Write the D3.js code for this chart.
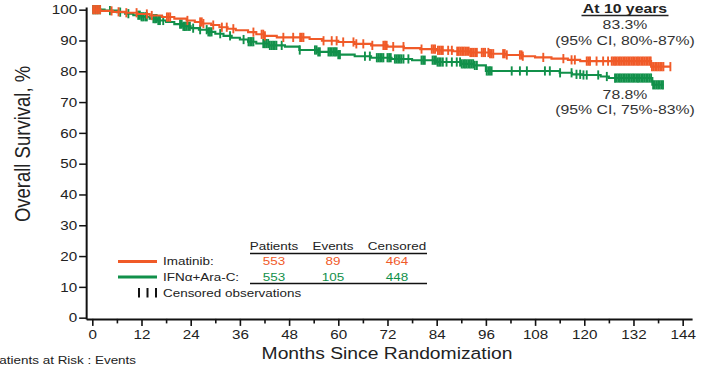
<!DOCTYPE html>
<html>
<head>
<meta charset="utf-8">
<script src="https://cdn.jsdelivr.net/npm/d3@7"></script>
<style>
  html, body { margin: 0; padding: 0; background: #fff; }
  svg { display: block; font-family: "Liberation Sans", Arial, Helvetica, sans-serif; }
</style>
</head>
<body>
<svg id="chart" width="715" height="367"></svg>
<script>
// Kaplan–Meier overall survival: Imatinib vs IFNα + Ara-C

// Step points: month of each drop and survival (%) after it
const imatinibTimes = [0, 2, 5, 8, 11, 14, 17, 20, 23, 25, 27, 29, 31, 33, 35, 38, 40, 42, 45, 53, 56, 60, 64, 68, 72, 76, 80, 84, 88, 92, 97, 101, 105, 108, 112, 116, 119, 136.3];
const imatinibSurv  = [100, 99.6, 99.3, 99.0, 98.6, 98.1, 97.6, 97.1, 96.5, 96.0, 95.5, 95.0, 94.3, 93.8, 93.3, 92.7, 92.0, 91.5, 91.0, 90.5, 89.9, 89.5, 88.9, 88.4, 88.0, 87.5, 87.2, 86.8, 86.5, 86.1, 85.7, 85.3, 84.9, 84.5, 84.1, 83.7, 83.3, 81.5];
const imatinibEnd = 141;

const ifnTimes = [0, 3, 6, 8, 10, 12, 14, 16, 18, 20, 22, 24, 26, 28, 30, 32, 34, 36, 38, 40, 43, 47, 50.5, 55, 60, 64, 68, 73, 78, 84, 90, 93, 96, 114, 117, 119.5, 124, 126, 136.6];
const ifnSurv  = [100, 99.7, 99.2, 98.7, 98.2, 97.7, 97.1, 96.5, 96.0, 95.3, 94.6, 94.0, 93.5, 92.8, 92.2, 91.5, 90.9, 90.3, 89.6, 89.0, 88.4, 88.0, 86.9, 86.3, 85.4, 84.9, 84.4, 84.0, 83.6, 83.0, 82.4, 81.9, 80.1, 79.5, 79.0, 78.8, 78.3, 77.8, 75.6];
const ifnEnd = 139.3;

// Censoring times (months)
const imatinibCensor = [0.2, 0.6, 1.0, 1.4, 1.9, 4.7, 6.4, 8.3, 10.8, 13.3, 14.5, 18.2, 18.6, 19.0, 23.2, 26.3, 26.7, 27.1, 29.5, 31.6, 32.8, 34.4, 39.3, 41.3, 41.7, 42.1, 46.6, 49.0, 50.7, 51.1, 51.5, 56.4, 58.4, 59.6, 61.2, 63.7, 64.4, 66.1, 68.3, 71.0, 71.4, 71.8, 73.4, 75.9, 80.3, 82.8, 83.2, 83.6, 84.3, 84.7, 85.1, 85.5, 86.8, 87.7, 89.0, 89.4, 89.8, 90.2, 90.6, 91.0, 91.4, 91.8, 92.2, 92.6, 93.0, 93.4, 93.8, 95.0, 95.4, 95.8, 96.6, 97.0, 97.4, 97.8, 100.2, 100.6, 101.1, 104.3, 104.7, 105.0, 110.0, 114.9, 116.9, 117.7, 120.6, 121.0, 121.4, 123.0, 124.6, 125.8, 126.7, 127.1, 127.5, 127.9, 128.3, 128.7, 129.1, 129.5, 129.9, 130.3, 130.7, 131.1, 131.5, 131.9, 132.3, 132.7, 133.1, 133.5, 133.9, 134.3, 134.7, 135.1, 135.5, 135.9, 136.2, 136.5, 136.9, 137.3, 137.7, 138.1, 138.5, 138.9, 139.3, 141.0];
const ifnCensor = [0.2, 0.6, 1.0, 1.4, 1.9, 4.3, 6.8, 8.8, 11.2, 11.6, 12.0, 12.4, 12.9, 13.3, 14.9, 15.3, 15.7, 16.1, 16.5, 17.3, 21.4, 21.8, 22.2, 22.6, 23.0, 23.4, 23.8, 24.6, 26.3, 27.9, 28.3, 28.7, 29.1, 31.2, 33.6, 36.9, 38.1, 38.5, 38.9, 39.3, 41.7, 42.1, 42.5, 42.9, 43.3, 43.7, 44.1, 44.5, 44.9, 46.2, 50.6, 54.3, 54.7, 55.1, 55.5, 57.6, 58.0, 58.4, 58.8, 59.2, 59.6, 60.0, 60.4, 66.5, 67.7, 69.4, 69.8, 70.2, 70.6, 71.0, 72.0, 72.4, 72.8, 73.8, 74.2, 74.6, 75.0, 75.4, 75.9, 77.1, 80.3, 80.7, 81.1, 83.0, 83.4, 83.8, 84.2, 84.6, 85.0, 85.5, 86.4, 87.7, 88.9, 89.7, 90.1, 90.5, 90.9, 91.3, 91.7, 92.1, 92.5, 92.9, 93.3, 93.8, 96.2, 96.6, 97.0, 97.4, 102.3, 104.3, 106.0, 110.4, 111.6, 114.1, 116.9, 118.1, 119.0, 119.8, 120.6, 123.4, 125.5, 127.5, 127.9, 128.3, 128.7, 129.1, 129.5, 129.9, 130.3, 130.7, 131.1, 131.5, 131.9, 132.3, 132.7, 133.1, 133.5, 133.9, 134.3, 134.7, 135.1, 135.5, 135.9, 136.3, 136.8, 137.2, 137.6, 138.0, 138.4, 138.8, 139.2];

// Axis ticks
const xTicks = [0, 6, 12, 18, 24, 30, 36, 42, 48, 54, 60, 66, 72, 78, 84, 90, 96, 102, 108, 114, 120, 126, 132, 138, 144];
const yTicks = [0, 10, 20, 30, 40, 50, 60, 70, 80, 90, 100];

// Summary table
const tableHeaders = ["Patients", "Events", "Censored"];
const armNames = ["Imatinib:", "IFNα+Ara-C:"];
const imatinibCounts = [553, 89, 464];
const ifnCounts = [553, 105, 448];

// 10-year estimates
const tenYearTitle = "At 10 years";
const imatinibTenYear = ["83.3%", "(95% CI, 80%-87%)"];
const ifnTenYear = ["78.8%", "(95% CI, 75%-83%)"];

const ORANGE = "#F05A28";
const GREEN = "#11904A";
const INK = "#222";
const K = 1.17; // horizontal stretch applied to the lettering

const svg = d3.select("#chart");

const x = d3.scaleLinear().domain([-1.5, 146.3]).range([86.15, 692.1]);
const y = d3.scaleLinear().domain([-0.4, 100.9]).range([318.9, 6.9]);

// stretched text helper: position via x/y, widened horizontally by K
function addText(parent, str, px, py, opts = {}) {
  const t = parent.append("text")
    .attr("x", px / K).attr("y", py)
    .attr("transform", `scale(${K},1)`)
    .attr("font-size", opts.size || 12)
    .attr("fill", opts.fill || INK)
    .attr("text-anchor", opts.anchor || "start")
    .text(str);
  if (opts.weight) t.attr("font-weight", opts.weight);
  return t;
}

// ---- axes ----
const yAxis = svg.append("g")
  .attr("transform", `translate(${x(-1.5)},0)`)
  .call(d3.axisLeft(y).tickValues(yTicks).tickSize(7).tickSizeOuter(0).tickPadding(2));
yAxis.select(".domain").attr("stroke", "#111").attr("stroke-width", 2);
yAxis.selectAll(".tick line").attr("stroke", "#111").attr("stroke-width", 1.5);
yAxis.selectAll(".tick text")
  .attr("font-size", 13).attr("fill", INK).attr("font-family", null)
  .attr("x", -9 / K).attr("transform", `scale(${K},1)`);

const xAxis = svg.append("g")
  .attr("transform", `translate(0,${y(-0.4)})`)
  .call(d3.axisBottom(x).tickValues(xTicks).tickSize(7).tickSizeOuter(0).tickPadding(4)
    .tickFormat(d => d % 12 === 0 ? d : ""));
xAxis.select(".domain").attr("stroke", "#111").attr("stroke-width", 2);
xAxis.selectAll(".tick line").attr("stroke", "#111").attr("stroke-width", 1.6)
  .attr("y2", d => d % 12 === 0 ? 7 : 4.5);
xAxis.selectAll(".tick text")
  .attr("font-size", 13).attr("fill", INK).attr("font-family", null)
  .attr("transform", `scale(${K},1)`);

// axis titles
svg.append("text")
  .attr("transform", `translate(30,144) scale(${K},1) rotate(-90)`)
  .attr("text-anchor", "middle")
  .attr("font-size", 18.5)
  .attr("fill", INK)
  .text("Overall Survival, %");

addText(svg, "Months Since Randomization", 387, 359, { size: 16.5, anchor: "middle" });
addText(svg, "Patients at Risk : Events", -9.6, 364, { size: 11.5 });

// ---- survival curves ----
function stepPoints(times, surv, end) {
  const pts = times.map((t, i) => [t, surv[i]]);
  pts.push([end, surv[surv.length - 1]]);
  return pts;
}
function survAt(times, surv, t) {
  let v = surv[0];
  for (let i = 0; i < times.length; i++) { if (times[i] <= t) v = surv[i]; else break; }
  return v;
}
const line = d3.line().x(d => x(d[0])).y(d => y(d[1])).curve(d3.curveStepAfter);

const arms = [
  { times: ifnTimes, surv: ifnSurv, end: ifnEnd, censor: ifnCensor, color: GREEN },
  { times: imatinibTimes, surv: imatinibSurv, end: imatinibEnd, censor: imatinibCensor, color: ORANGE }
];

arms.forEach(a => {
  const g = svg.append("g");
  g.append("path")
    .attr("d", line(stepPoints(a.times, a.surv, a.end)))
    .attr("fill", "none").attr("stroke", a.color).attr("stroke-width", 2.1);
  g.selectAll("line.cens").data(a.censor).join("line")
    .attr("class", "cens")
    .attr("x1", d => x(d)).attr("x2", d => x(d))
    .attr("y1", d => y(survAt(a.times, a.surv, d)) - 4.6)
    .attr("y2", d => y(survAt(a.times, a.surv, d)) + 4.6)
    .attr("stroke", a.color).attr("stroke-width", 1.9);
});

// ---- 10-year annotations ----
const ann = svg.append("g");
addText(ann, tenYearTitle, 625, 13.5, { size: 13.5, anchor: "middle", weight: "bold" });
ann.append("line").attr("x1", 581.5).attr("x2", 668.5).attr("y1", 15.5).attr("y2", 15.5)
  .attr("stroke", INK).attr("stroke-width", 1.3);
addText(ann, imatinibTenYear[0], 625, 29.5, { size: 13.5, anchor: "middle", fill: "#333" });
addText(ann, imatinibTenYear[1], 625, 45, { size: 13.5, anchor: "middle", fill: "#333" });
addText(ann, ifnTenYear[0], 625, 99, { size: 13.5, anchor: "middle", fill: "#333" });
addText(ann, ifnTenYear[1], 625, 114.5, { size: 13.5, anchor: "middle", fill: "#333" });

// ---- legend / summary table ----
const leg = svg.append("g");
const colCenters = [274, 333, 397];
const rowY = [265.5, 281];
tableHeaders.forEach((h, i) => addText(leg, h, colCenters[i], 250.5, { size: 11.5, anchor: "middle" }));
leg.append("line").attr("x1", 250).attr("x2", 427).attr("y1", 253.5).attr("y2", 253.5)
  .attr("stroke", "#111").attr("stroke-width", 1.4);
leg.append("line").attr("x1", 250).attr("x2", 427).attr("y1", 283.5).attr("y2", 283.5)
  .attr("stroke", "#111").attr("stroke-width", 1.4);

[[imatinibCounts, ORANGE], [ifnCounts, GREEN]].forEach(([counts, col], r) => {
  leg.append("line").attr("x1", 118).attr("x2", 157)
    .attr("y1", rowY[r] - 4).attr("y2", rowY[r] - 4)
    .attr("stroke", col).attr("stroke-width", 3);
  addText(leg, armNames[r], 163, rowY[r], { size: 11.5 });
  counts.forEach((c, i) => addText(leg, c, colCenters[i], rowY[r], { size: 11.5, anchor: "middle", fill: col }));
});
[139, 147.5, 156].forEach(px => {
  leg.append("line").attr("x1", px).attr("x2", px).attr("y1", 288).attr("y2", 297.5)
    .attr("stroke", "#111").attr("stroke-width", 2);
});
addText(leg, "Censored observations", 163, 297, { size: 11.5 });
</script>
</body>
</html>
